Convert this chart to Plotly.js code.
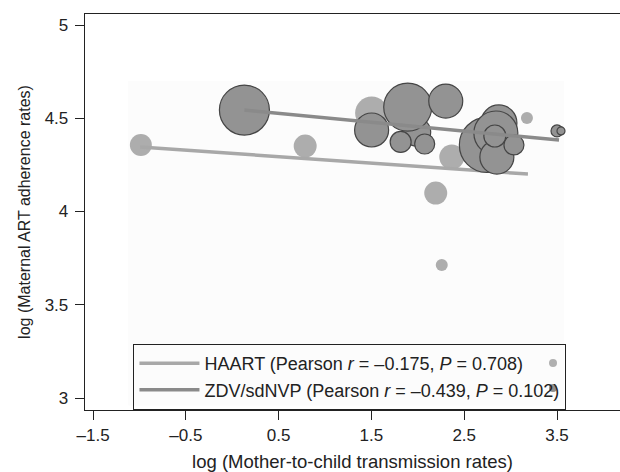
<!DOCTYPE html>
<html><head><meta charset="utf-8">
<script src="https://cdn.plot.ly/plotly-3.0.1.min.js"></script>
<style>body{margin:0;background:#fff}#chart{width:620px;height:472px}</style>
</head><body><div id="chart"></div>
<script>
// HAART studies (light bubbles)
const haartX = [-0.985, 0.786, 1.502, 2.366, 2.193, 2.258, 3.176];
const haartY = [4.357, 4.351, 4.528, 4.292, 4.099, 3.713, 4.501];
const haartSize = [22, 23, 33, 25, 23, 12, 12];
// ZDV/sdNVP studies (dark bubbles)
const zdvX = [0.131, 1.502, 1.988, 1.891, 2.301, 1.815, 2.074, 2.744, 2.874, 2.841, 2.852, 3.036, 2.830, 3.500, 3.543];
const zdvY = [4.544, 4.437, 4.426, 4.560, 4.592, 4.373, 4.362, 4.357, 4.475, 4.421, 4.292, 4.357, 4.405, 4.432, 4.432];
const zdvSize = [50, 34, 28, 48, 34, 21, 20, 55, 36, 44, 34, 20, 22, 12, 8];
// fitted lines (endpoints)
const haartFitX = [-0.992, 3.187];
const haartFitY = [4.346, 4.201];
const zdvFitX = [0.131, 3.522];
const zdvFitY = [4.544, 4.383];
// legend key markers drawn at the right of the legend box
const keyX = [3.457, 3.457];
const keyY = [3.188, 3.054];
const keyColor = ['#b0b0b0', '#8e8e8e'];

const xTicks = [-1.5, -0.5, 0.5, 1.5, 2.5, 3.5];
const yTicks = [3, 3.5, 4, 4.5, 5];

const traces = [
  {x: haartX, y: haartY, mode: 'markers', type: 'scatter', showlegend: false, hoverinfo: 'skip',
   marker: {size: haartSize, sizemode: 'diameter', color: '#adadad', opacity: 1, line: {width: 0}}},
  {x: haartFitX, y: haartFitY, mode: 'lines', type: 'scatter',
   name: 'HAART (Pearson <i>r</i> = –0.175, <i>P</i> = 0.708)',
   line: {color: '#a8a8a8', width: 3.5}},
  {x: zdvX, y: zdvY, mode: 'markers', type: 'scatter', showlegend: false, hoverinfo: 'skip',
   marker: {size: zdvSize, sizemode: 'diameter', color: '#939393', opacity: 1, line: {width: 1.2, color: '#454545'}}},
  {x: zdvFitX, y: zdvFitY, mode: 'lines', type: 'scatter',
   name: 'ZDV/sdNVP (Pearson <i>r</i> = –0.439, <i>P</i> = 0.102)',
   line: {color: '#8a8a8a', width: 3.5}},
  {x: keyX, y: keyY, mode: 'markers', type: 'scatter', showlegend: false, hoverinfo: 'skip',
   marker: {size: 8, color: keyColor, opacity: 1}}
];

const layout = {
  width: 620, height: 472,
  margin: {l: 85, r: 0, t: 14, b: 62},
  paper_bgcolor: '#ffffff', plot_bgcolor: '#ffffff',
  font: {family: 'Liberation Sans, Arial, sans-serif', size: 17, color: '#222'},
  shapes: [{type: 'rect', xref: 'x', yref: 'y', x0: -1.122, x1: 3.576, y0: 2.96, y1: 4.70,
            fillcolor: '#fcfcfc', line: {width: 0}, layer: 'below'}],
  xaxis: {range: [-1.587, 4.179], tickvals: xTicks, ticktext: xTicks.map(v => (v < 0 ? '–' : '') + Math.abs(v).toFixed(1)),
          ticks: 'outside', ticklen: 9, tickcolor: '#222', showline: true, linecolor: '#222', linewidth: 1.3,
          mirror: true, showgrid: false, zeroline: false, tickfont: {size: 17},
          title: {text: 'log (Mother-to-child transmission rates)', standoff: 11, font: {size: 18.5}}},
  yaxis: {range: [2.936, 5.059], tickvals: yTicks, ticktext: yTicks.map(v => String(v)),
          ticks: 'outside', ticklen: 9, tickcolor: '#222', showline: true, linecolor: '#222', linewidth: 1.3,
          showgrid: false, zeroline: false, tickfont: {size: 17}, ticklabelstandoff: 3,
          title: {text: 'log (Maternal ART adherence rates)', standoff: 10, font: {size: 16}}},
  legend: {x: 0.09, y: 0.167, xanchor: 'left', yanchor: 'top', bgcolor: 'rgba(0,0,0,0)',
           bordercolor: '#222', borderwidth: 1.3, itemwidth: 60, tracegroupgap: 0,
           font: {size: 18, color: '#222'}},
  showlegend: true
};

Plotly.newPlot('chart', traces, layout, {displayModeBar: false, staticPlot: true});
</script>
</body></html>
